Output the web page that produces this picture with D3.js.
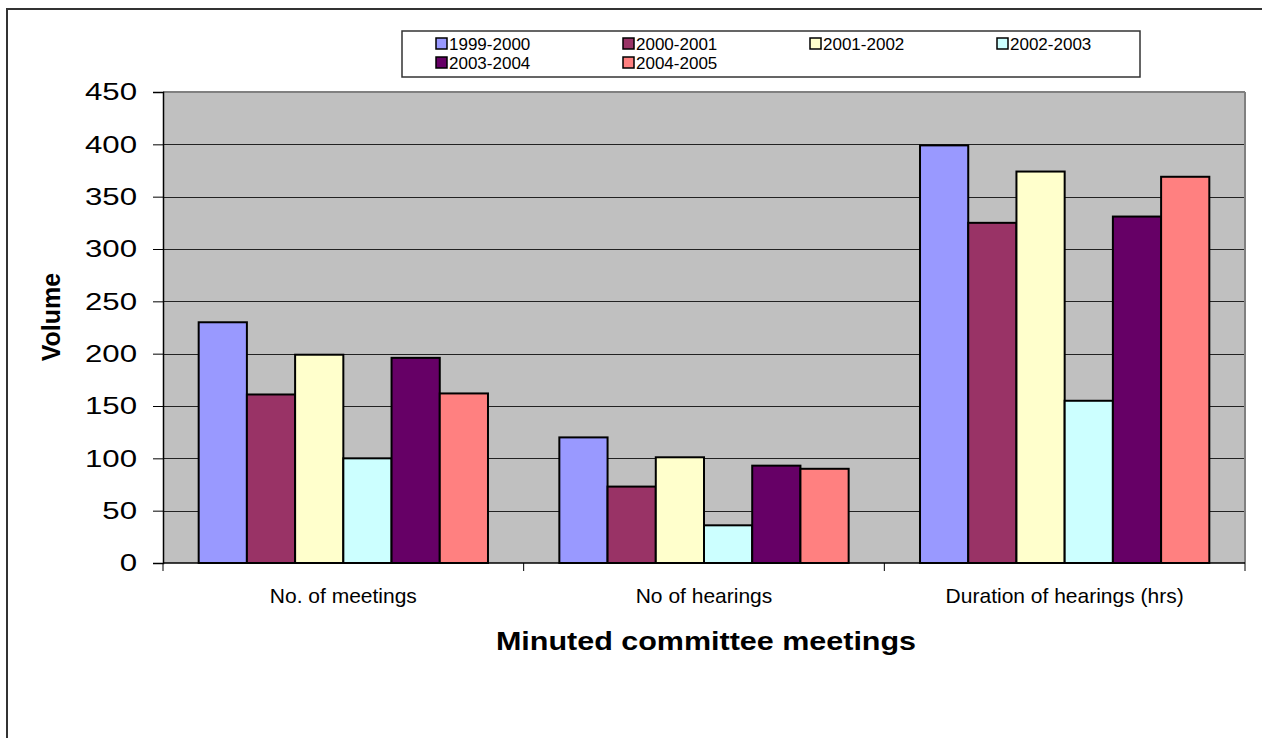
<!DOCTYPE html>
<html><head><meta charset="utf-8">
<script src="https://cdn.jsdelivr.net/npm/d3@7"></script>
<style>body{margin:0;background:#fff}svg{display:block;font-family:Arial,"Liberation Sans",sans-serif}</style>
</head><body><svg id="c" width="1262" height="738"></svg>
<script>
const categories = ["No. of meetings", "No of hearings", "Duration of hearings (hrs)"];
const seriesNames = ["1999-2000", "2000-2001", "2001-2002", "2002-2003", "2003-2004", "2004-2005"];
const seriesColors = ["#9999FF", "#993366", "#FFFFCC", "#CCFFFF", "#660066", "#FF8080"];
const v1999 = [230, 120, 399];
const v2000 = [161, 73, 325];
const v2001 = [199, 101, 374];
const v2002 = [100, 36, 155];
const v2003 = [196, 93, 331];
const v2004 = [162, 90, 369];
const yTicks = [0, 50, 100, 150, 200, 250, 300, 350, 400, 450];
const seriesValues = [v1999, v2000, v2001, v2002, v2003, v2004];

const svg = d3.select("#c");
const L = 163, R = 1245, T = 92, B = 563;
const FONT = "Arial, 'Liberation Sans', sans-serif";

// outer border
svg.append("rect").attr("x", 7).attr("y", 9).attr("width", 1300).attr("height", 800)
  .attr("fill", "none").attr("stroke", "#333").attr("stroke-width", 2);

const x0 = d3.scaleBand().domain(categories).range([L, R]).paddingInner(0).paddingOuter(0);
const y = d3.scaleLinear().domain([0, 450]).range([B, T]);
const groupW = x0.bandwidth();
const barW = groupW / (6 + 1.48);
const pad = (groupW - 6 * barW) / 2;
const x1 = d3.scaleBand().domain(seriesNames).range([pad, pad + 6 * barW]).padding(0);

svg.append("rect").attr("x", L).attr("y", T).attr("width", R - L).attr("height", B - T).attr("fill", "#C0C0C0");

// gridlines
svg.append("g").selectAll("line").data(yTicks.filter(d => d > 0)).join("line")
  .attr("x1", L).attr("x2", R).attr("y1", d => Math.round(y(d)) + 0.5).attr("y2", d => Math.round(y(d)) + 0.5)
  .attr("stroke", "#222").attr("stroke-width", 1);

// top & right border of plot
svg.append("line").attr("x1", L).attr("x2", R).attr("y1", T).attr("y2", T).attr("stroke", "#808080").attr("stroke-width", 2);
svg.append("line").attr("x1", R).attr("x2", R).attr("y1", T).attr("y2", B).attr("stroke", "#808080").attr("stroke-width", 2);

// bars
const groups = svg.append("g").selectAll("g").data(categories).join("g")
  .attr("transform", d => `translate(${x0(d)},0)`);
groups.selectAll("rect").data((c, ci) => seriesNames.map((s, si) => ({ s, si, v: seriesValues[si][ci] }))).join("rect")
  .attr("x", d => x1(d.s)).attr("width", x1.bandwidth())
  .attr("y", d => y(d.v)).attr("height", d => y(0) - y(d.v))
  .attr("fill", d => seriesColors[d.si]).attr("stroke", "#000").attr("stroke-width", 2);

// y axis
const yAxis = d3.axisLeft(y).tickValues(yTicks).tickSize(10).tickPadding(0);
const ya = svg.append("g").attr("transform", `translate(${L},0)`).call(yAxis);
ya.select(".domain").attr("stroke", "#000").attr("stroke-width", 1.5);
ya.selectAll(".tick line").attr("stroke", "#000");
ya.selectAll("text").attr("font-size", 24).attr("fill", "#000").attr("font-family", FONT)
  .attr("x", -20).attr("transform", "scale(1.3,1)");

// x axis
svg.append("line").attr("x1", L).attr("x2", R).attr("y1", B).attr("y2", B).attr("stroke", "#000").attr("stroke-width", 1.5);
const bounds = categories.map(c => x0(c)).concat([R]);
svg.append("g").selectAll("line").data(bounds).join("line")
  .attr("x1", d => d).attr("x2", d => d).attr("y1", B).attr("y2", B + 8).attr("stroke", "#000");
svg.append("g").selectAll("text").data(categories).join("text")
  .attr("x", d => x0(d) + groupW / 2).attr("y", 603).attr("text-anchor", "middle")
  .attr("font-size", 21).text(d => d);

// titles
svg.append("text").attr("transform", "translate(706,650) scale(1.22,1)").attr("text-anchor", "middle")
  .attr("font-size", 25).attr("font-weight", "bold").text("Minuted committee meetings");
svg.append("text").attr("transform", "translate(60,317) rotate(-90)").attr("text-anchor", "middle")
  .attr("font-size", 25).attr("font-weight", "bold").text("Volume");

// legend
const lg = svg.append("g");
lg.append("rect").attr("x", 402).attr("y", 31).attr("width", 738).attr("height", 46)
  .attr("fill", "#fff").attr("stroke", "#333").attr("stroke-width", 1.5);
const lgItems = lg.selectAll("g").data(seriesNames).join("g")
  .attr("transform", (d, i) => `translate(${436 + (i % 4) * 187},${(i < 4 ? 44 : 63)})`);
lgItems.append("rect").attr("x", 0).attr("y", -6).attr("width", 11).attr("height", 11)
  .attr("fill", (d, i) => seriesColors[i]).attr("stroke", "#000").attr("stroke-width", 1.5);
lgItems.append("text").attr("x", 13).attr("y", 6).attr("font-size", 17).text(d => d);
</script></body></html>
